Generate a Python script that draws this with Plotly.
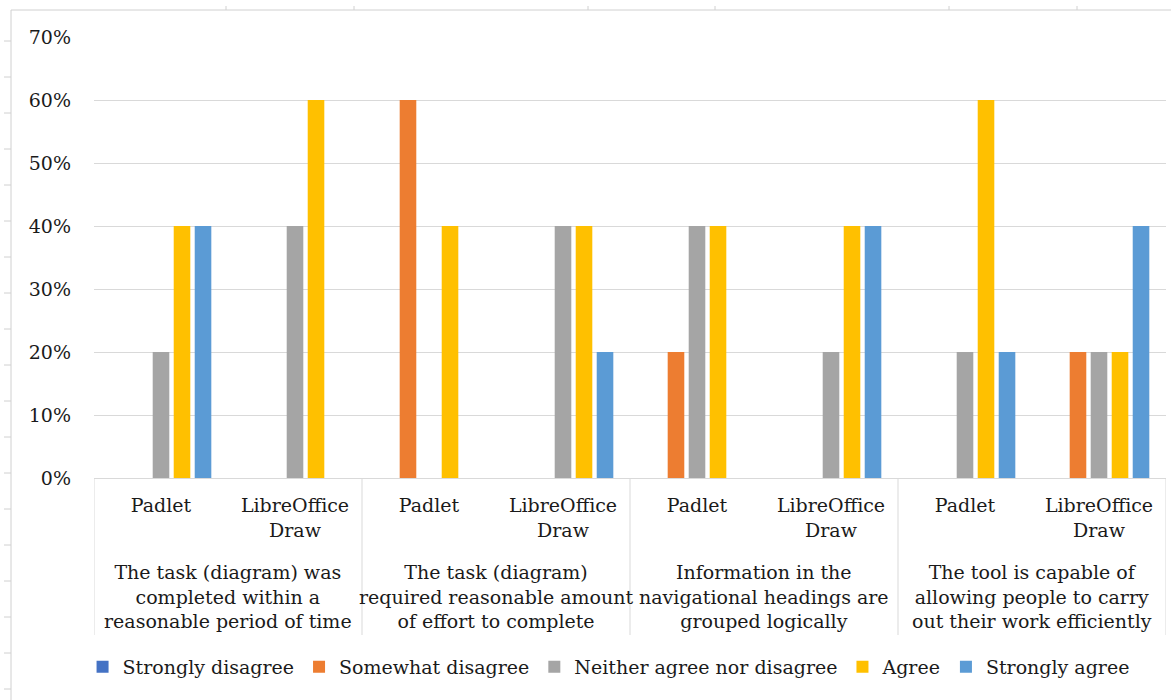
import plotly.graph_objects as go

# Survey statements (group labels) and tools (one bar cluster per tool)
statements = [
    "The task (diagram) was<br>completed within a<br>reasonable period of time",
    "The task (diagram)<br>required reasonable amount<br>of effort to complete",
    "Information in the<br>navigational headings are<br>grouped logically",
    "The tool is capable of<br>allowing people to carry<br>out their work efficiently",
]
tools = ["Padlet", "LibreOffice<br>Draw"]

# Share of respondents per answer, ordered Padlet / LibreOffice Draw for each statement
strongly_disagree = [0.0, 0.0, 0.0, 0.0, 0.0, 0.0, 0.0, 0.0]
somewhat_disagree = [0.0, 0.0, 0.6, 0.0, 0.2, 0.0, 0.0, 0.2]
neither = [0.2, 0.4, 0.0, 0.4, 0.4, 0.2, 0.2, 0.2]
agree = [0.4, 0.6, 0.4, 0.4, 0.4, 0.4, 0.6, 0.2]
strongly_agree = [0.4, 0.0, 0.0, 0.2, 0.0, 0.4, 0.2, 0.4]

series_names = ["Strongly disagree", "Somewhat disagree", "Neither agree nor disagree",
                "Agree", "Strongly agree"]
series_values = [strongly_disagree, somewhat_disagree, neither, agree, strongly_agree]
colors = ["#4472C4", "#ED7D31", "#A5A5A5", "#FFC000", "#5B9BD5"]

# one slot per (statement, tool) pair, laid out left to right
slots = list(range(len(statements) * len(tools)))
slot_labels = [t for _ in statements for t in tools]
n_tools = len(tools)

FONT = "DejaVu Serif"
TEXT = "#1a1a1a"
GRID = "#d9d9d9"
FS = 19

fig = go.Figure()
for name, vals, col in zip(series_names, series_values, colors):
    fig.add_trace(go.Bar(
        x=slots, y=vals, name=name,
        marker=dict(color=col, line=dict(width=0)),
    ))

# Pixel geometry of the plotting area inside the 1171x700 page
W, H = 1171, 700
L, R, T, B = 94, 5, 37, 222
pw, ph = W - L - R, H - T - B


def px(x):
    return (x - L) / pw


def py(y):
    return (H - B - y) / ph


shapes = []
frame = dict(color="#d0d0d0", width=1)
# spreadsheet frame behind the chart
shapes.append(dict(type="line", xref="paper", yref="paper",
                   x0=px(11), x1=px(W + 5), y0=py(10), y1=py(10), line=frame))
shapes.append(dict(type="line", xref="paper", yref="paper",
                   x0=px(11), x1=px(11), y0=py(10), y1=py(H + 5), line=frame))
for k in range(19):
    yy = 41 + 36 * k
    shapes.append(dict(type="line", xref="paper", yref="paper",
                       x0=px(4), x1=px(11), y0=py(yy), y1=py(yy), line=frame))
for xx in [226, 354, 588, 715, 949, 1077]:
    shapes.append(dict(type="line", xref="paper", yref="paper",
                       x0=px(xx), x1=px(xx), y0=py(6), y1=py(10), line=frame))

# group dividers under the axis, between statements
for g in range(len(statements) + 1):
    xd = g * n_tools - 0.5
    shapes.append(dict(type="line", xref="x", yref="paper", x0=xd, x1=xd,
                       y0=0, y1=py(635), line=dict(color=GRID, width=1)))

# statement labels centred under each pair of clusters
annotations = []
for g, s in enumerate(statements):
    annotations.append(dict(
        x=g * n_tools + (n_tools - 1) / 2, xref="x", y=py(559), yref="paper",
        xanchor="center", yanchor="top", text=s, showarrow=False, align="center",
        font=dict(family=FONT, size=FS, color=TEXT),
    ))

fig.update_layout(
    width=W, height=H,
    margin=dict(l=L, r=R, t=T, b=B, autoexpand=False),
    paper_bgcolor="white", plot_bgcolor="white",
    barmode="group", bargap=0.216, bargroupgap=0.21,
    font=dict(family=FONT, size=FS, color=TEXT),
    showlegend=True,
    legend=dict(orientation="h", x=0.48, xanchor="center", y=py(667), yanchor="middle",
                font=dict(family=FONT, size=FS, color=TEXT), traceorder="normal",
                itemwidth=30, bgcolor="rgba(0,0,0,0)"),
    xaxis=dict(range=[-0.5, len(slots) - 0.5], tickvals=slots, ticktext=slot_labels,
               showline=True, linecolor=GRID, linewidth=1, showgrid=False, zeroline=False,
               ticks="", ticklabelstandoff=10, fixedrange=True,
               tickfont=dict(family=FONT, size=FS, color=TEXT), automargin=False),
    yaxis=dict(range=[0, 0.7], dtick=0.1, tickformat=".0%", showgrid=True,
               gridcolor=GRID, gridwidth=1, zeroline=False, showline=False,
               ticks="", ticklabelstandoff=22,
               tickfont=dict(family=FONT, size=FS, color=TEXT), automargin=False),
    shapes=shapes,
    annotations=annotations,
)

fig.write_html("out.html")
